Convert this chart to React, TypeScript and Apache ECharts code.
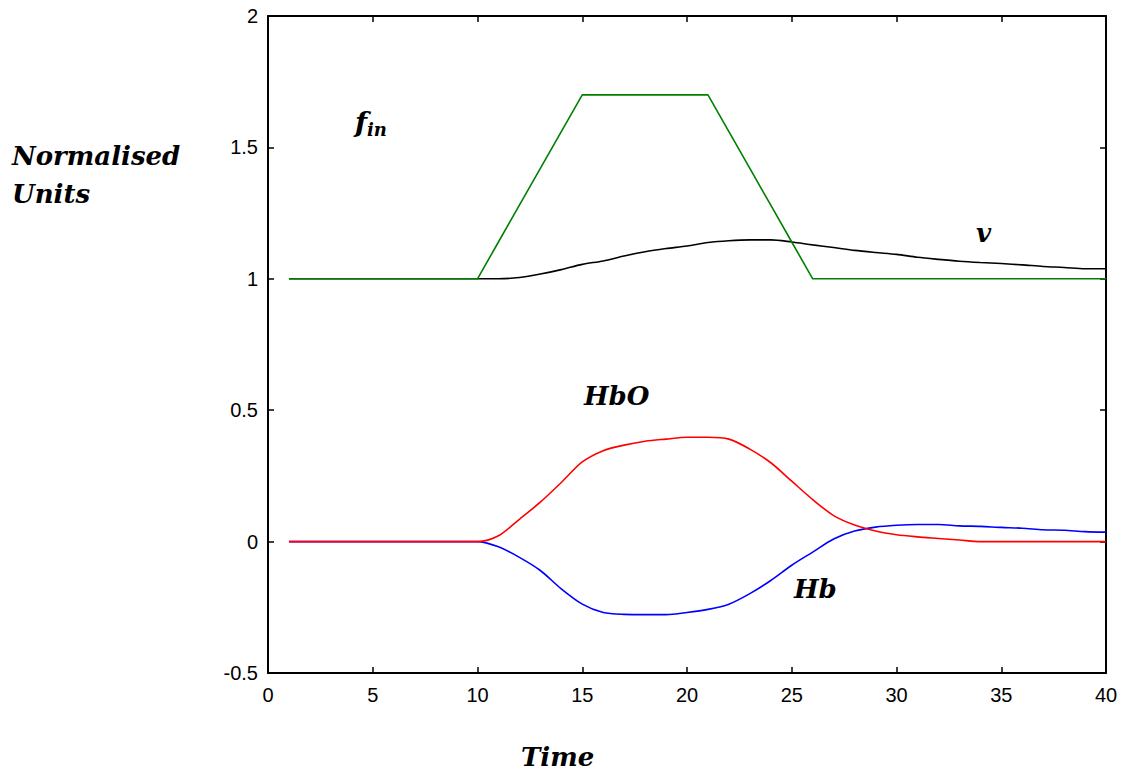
import React, { useEffect, useRef } from "react";
import * as echarts from "echarts";

const time = [1,2,3,4,5,6,7,8,9,10,11,12,13,14,15,16,17,18,19,20,21,22,23,24,25,26,27,28,29,30,31,32,33,34,35,36,37,38,39,40];
const fin = [1,1,1,1,1,1,1,1,1,1,1.14,1.28,1.42,1.56,1.7,1.7,1.7,1.7,1.7,1.7,1.7,1.56,1.42,1.28,1.14,1,1,1,1,1,1,1,1,1,1,1,1,1,1,1];
const vol = [1,1,1,1,1,1,1,1,1,1,1,1.005,1.018,1.035,1.055,1.068,1.087,1.103,1.115,1.125,1.138,1.145,1.148,1.148,1.14,1.129,1.119,1.108,1.1,1.093,1.082,1.074,1.067,1.062,1.058,1.053,1.047,1.043,1.038,1.038];
const hbo = [0,0,0,0,0,0,0,0,0,0,0.022,0.085,0.15,0.225,0.303,0.346,0.367,0.382,0.39,0.397,0.397,0.39,0.352,0.3,0.23,0.16,0.099,0.063,0.04,0.026,0.018,0.012,0.006,0,0,0,0,0,0,0];
const hb = [0,0,0,0,0,0,0,0,0,0,-0.02,-0.06,-0.11,-0.18,-0.238,-0.27,-0.277,-0.278,-0.278,-0.27,-0.258,-0.238,-0.198,-0.148,-0.09,-0.04,0.01,0.04,0.055,0.062,0.065,0.065,0.06,0.058,0.054,0.051,0.045,0.043,0.038,0.036];

const pairs = (vals: number[]) => time.map((t, i) => [t, vals[i]]);

export default function App() {
  const ref = useRef<HTMLDivElement>(null);
  useEffect(() => {
    document.body.style.margin = "0";
    const chart = echarts.init(ref.current!, undefined, { renderer: "svg" });
    const titleFont = {
      fontFamily: "DejaVu Serif",
      fontWeight: "bold" as const,
      fontStyle: "italic" as const,
      fontSize: 26,
      fill: "#000",
    };
    const line = (name: string, vals: number[], color: string, smooth: number) => ({
      name,
      type: "line",
      data: pairs(vals),
      showSymbol: false,
      symbol: "none",
      smooth,
      lineStyle: { color, width: 1.6 },
      itemStyle: { color },
      z: 2,
    });
    const axisLine = { show: true, onZero: false, lineStyle: { color: "#000", width: 2 } };
    const axisTick = { show: true, inside: true, length: 6, lineStyle: { color: "#000", width: 1.5 } };
    chart.setOption({
      animation: false,
      grid: { left: 268, top: 16, right: 15, bottom: 103, containLabel: false },
      xAxis: [
        {
          type: "value", min: 0, max: 40, interval: 5, position: "bottom",
          axisLine, axisTick,
          axisLabel: { color: "#000", fontSize: 20, fontFamily: "Liberation Sans", margin: 12 },
          splitLine: { show: false },
        },
        {
          type: "value", min: 0, max: 40, interval: 5, position: "top",
          axisLine, axisTick,
          axisLabel: { show: false },
          splitLine: { show: false },
        },
      ],
      yAxis: [
        {
          type: "value", min: -0.5, max: 2, interval: 0.5, position: "left",
          axisLine, axisTick,
          axisLabel: { color: "#000", fontSize: 20, fontFamily: "Liberation Sans", margin: 10 },
          splitLine: { show: false },
        },
        {
          type: "value", min: -0.5, max: 2, interval: 0.5, position: "right",
          axisLine, axisTick,
          axisLabel: { show: false },
          splitLine: { show: false },
        },
      ],
      series: [
        line("Hb", hb, "#0000ff", 0.3),
        line("HbO", hbo, "#ff0000", 0.3),
        line("v", vol, "#000000", 0.3),
        line("fin", fin, "#008000", 0),
      ],
      graphic: [
        { type: "text", left: 12, top: 137, style: { ...titleFont, text: "Normalised\nUnits", lineHeight: 38 } },
        { type: "text", left: 521, top: 744, style: { ...titleFont, text: "Time" } },
        {
          type: "text", left: 355, top: 108,
          style: {
            text: "{f|f}{s|in}",
            rich: {
              f: { ...titleFont, fontSize: 28 },
              s: { ...titleFont, fontSize: 18, padding: [14, 0, 0, 0] },
            },
          },
        },
        { type: "text", left: 976, top: 220, style: { ...titleFont, text: "v" } },
        { type: "text", left: 584, top: 383, style: { ...titleFont, text: "HbO" } },
        { type: "text", left: 794, top: 576, style: { ...titleFont, text: "Hb" } },
      ],
    });
    return () => chart.dispose();
  }, []);
  return <div ref={ref} style={{ width: 1121, height: 776 }} />;
}
